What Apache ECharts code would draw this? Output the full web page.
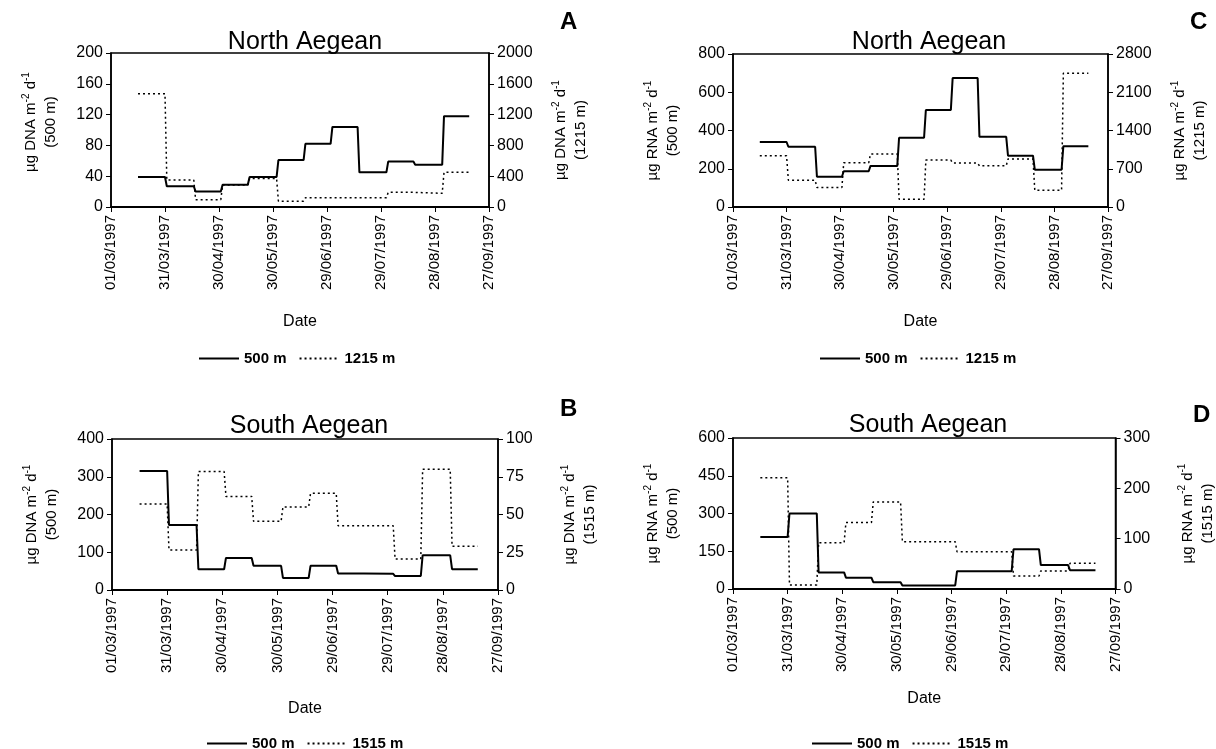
<!DOCTYPE html>
<html>
<head>
<meta charset="UTF-8">
<title>Aegean DNA / RNA fluxes</title>
<style>
  html, body { margin: 0; padding: 0; background: #fff; }
  #chart { width: 1216px; height: 749px; }
</style>
</head>
<body>
<div id="chart"></div>
<script src="https://cdn.jsdelivr.net/npm/echarts@6/dist/echarts.min.js"></script>
<script>
// trap periods, in days since 01/03/1997
var periodStart = [15, 31, 47, 62, 77, 93, 108, 123, 138, 154, 169, 185];
var periodEnd   = [30, 46, 61, 76, 92, 107, 122, 137, 153, 168, 184, 199];
var dateTicks = ['01/03/1997', '31/03/1997', '30/04/1997', '30/05/1997',
                 '29/06/1997', '29/07/1997', '28/08/1997', '27/09/1997'];

// North Aegean
var dnaNorth500  = [39, 27, 20, 29, 39, 61, 82, 104, 45, 59, 55, 118];
var dnaNorth1215 = [1470, 350, 95, 285, 370, 75, 120, 120, 120, 190, 178, 450];
var rnaNorth500  = [340, 315, 158, 187, 215, 362, 507, 674, 367, 268, 195, 318];
var rnaNorth1215 = [937, 490, 357, 808, 968, 142, 858, 805, 753, 880, 307, 2450];
// South Aegean
var dnaSouth500  = [315, 172, 55, 85, 64, 32, 64, 44, 43, 37, 92, 55];
var dnaSouth1515 = [57, 26.5, 78.5, 62, 45.5, 55, 64, 42.5, 42.5, 20.5, 80, 29];
var rnaSouth500  = [207, 300, 66, 45, 27, 14, 14, 71, 71, 158, 95, 75];
var rnaSouth1515 = [221, 8, 92, 132, 173, 94, 94, 74, 74, 26, 36, 51];

var FONT = 'Arial, "Liberation Sans", sans-serif';

// each period is a flat segment from its start day to its end day
function steps(values) {
  var out = [];
  for (var i = 0; i < values.length; i++) {
    out.push([periodStart[i], values[i]]);
    out.push([periodEnd[i], values[i]]);
  }
  return out;
}

function yName(kind, depth) {
  return '{t|\u00b5g ' + kind + ' m}{s|-2}{t| d}{s|-1}\n{t|(' + depth + ')}';
}

var nameRich = {
  t: { fontSize: 15, fontFamily: FONT, color: '#000', lineHeight: 20 },
  s: { fontSize: 10, fontFamily: FONT, color: '#000', lineHeight: 10, verticalAlign: 'top' }
};

var panels = [
  { grid: { left: 111, top: 53, width: 378, height: 154 }, title: 'North Aegean', tx: 300, ty: 25,
    letter: 'A', lx: 555, ly: 5, kind: 'DNA', deep: '1215 m', shiftL: 16,
    a: dnaNorth500, b: dnaNorth1215, maxL: 200, intL: 40, maxR: 2000, intR: 400,
    legend: [193, 346], dateGap: 107 },
  { grid: { left: 112, top: 439, width: 386, height: 151 }, title: 'South Aegean', tx: 304, ty: 409,
    letter: 'B', lx: 555, ly: 392, kind: 'DNA', deep: '1515 m', shiftL: 0,
    a: dnaSouth500, b: dnaSouth1515, maxL: 400, intL: 100, maxR: 100, intR: 25,
    legend: [201, 731], dateGap: 111 },
  { grid: { left: 733, top: 54, width: 375, height: 153 }, title: 'North Aegean', tx: 924, ty: 25,
    letter: 'C', lx: 1185, ly: 5, kind: 'RNA', deep: '1215 m', shiftL: 0,
    a: rnaNorth500, b: rnaNorth1215, maxL: 800, intL: 200, maxR: 2800, intR: 700,
    legend: [814, 346], dateGap: 107 },
  { grid: { left: 733, top: 438, width: 386, height: 151 }, title: 'South Aegean', tx: 923, ty: 408,
    letter: 'D', lx: 1188, ly: 398, kind: 'RNA', deep: '1515 m', shiftL: 0,
    a: rnaSouth500, b: rnaSouth1515, maxL: 600, intL: 150, maxR: 300, intR: 100,
    legend: [806, 731], dateGap: 102 }
];

var grids = [], xAxes = [], yAxes = [], series = [], titles = [], legends = [];

panels.forEach(function (p, i) {
  grids.push(Object.assign({ show: true, borderColor: '#000', borderWidth: 1.5 }, p.grid));

  titles.push({ text: p.title, left: p.tx, top: p.ty, textAlign: 'center',
    textStyle: { fontFamily: FONT, fontSize: 25, fontWeight: 'normal', color: '#000' } });
  titles.push({ text: p.letter, left: p.lx, top: p.ly,
    textStyle: { fontFamily: FONT, fontSize: 24, fontWeight: 'bold', color: '#000' } });

  xAxes.push({
    type: 'value', gridIndex: i, min: 0, max: 210, interval: 30,
    axisLine: { show: true, lineStyle: { color: '#000', width: 2 } },
    axisTick: { show: true, length: 5, lineStyle: { color: '#000' } },
    splitLine: { show: false },
    axisLabel: { rotate: 90, fontFamily: FONT, fontSize: 15, color: '#000', margin: 8,
      formatter: function (v) { return dateTicks[Math.round(v / 30)]; } },
    name: 'Date', nameLocation: 'middle', nameGap: p.dateGap,
    nameTextStyle: { fontFamily: FONT, fontSize: 16, color: '#000' }
  });

  var common = {
    type: 'value', gridIndex: i, min: 0,
    axisLine: { show: true, lineStyle: { color: '#000', width: 1.5 } },
    axisTick: { show: true, length: 5, lineStyle: { color: '#000' } },
    splitLine: { show: false },
    axisLabel: { fontFamily: FONT, fontSize: 16, color: '#000', margin: 8,
      formatter: function (v) { return String(v); } },
    nameLocation: 'middle', nameRotate: 90
  };
  yAxes.push(Object.assign({}, common, { position: 'left', max: p.maxL, interval: p.intL,
    name: yName(p.kind, '500 m'), nameGap: 50,
    nameTextStyle: { rich: nameRich, padding: [0, 0, 0, p.shiftL] } }));
  yAxes.push(Object.assign({}, common, { position: 'right', max: p.maxR, interval: p.intR,
    name: yName(p.kind, p.deep), nameGap: 62,
    nameTextStyle: { rich: nameRich } }));

  series.push({ name: '500 m', type: 'line', xAxisIndex: i, yAxisIndex: 2 * i,
    data: steps(p.a), symbol: 'none', z: 3,
    lineStyle: { color: '#000', width: 2 }, itemStyle: { color: '#000' } });
  series.push({ name: p.deep, type: 'line', xAxisIndex: i, yAxisIndex: 2 * i + 1,
    data: steps(p.b), symbol: 'none', z: 2,
    lineStyle: { color: '#000', width: 1.5, type: [2, 3] }, itemStyle: { color: '#000' } });

  legends.push({
    data: ['500 m', p.deep], left: p.legend[0], top: p.legend[1],
    itemWidth: 40, itemHeight: 12, itemGap: 12, selectedMode: false,
    itemStyle: { opacity: 0 },
    textStyle: { fontFamily: FONT, fontSize: 15, fontWeight: 'bold', color: '#000' }
  });
});

var chart = echarts.init(document.getElementById('chart'));
chart.setOption({
  animation: false,
  backgroundColor: '#fff',
  title: titles,
  legend: legends,
  grid: grids,
  xAxis: xAxes,
  yAxis: yAxes,
  series: series
});
</script>
</body>
</html>
